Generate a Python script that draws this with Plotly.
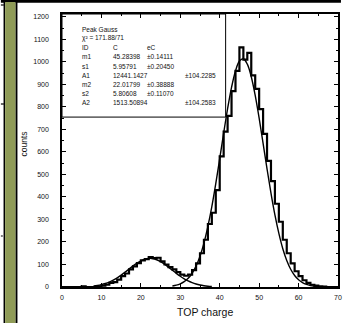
import plotly.graph_objects as go

# ---------------- data ----------------
bin_edges = list(range(0, 71))          # bin width 1, 0..70
counts = [0, 0, 0, 0, 0, 3, 0, 0, 0, 3,
          6, 10, 18, 22, 33, 48, 60, 78, 92, 106,
          118, 124, 133, 128, 130, 114, 100, 88, 78, 66,
          55, 50, 55, 75, 105, 150, 210, 280, 330, 430,
          580, 690, 760, 870, 960, 1065, 1010, 1040, 940, 880,
          790, 680, 560, 470, 370, 290, 210, 150, 105, 70,
          48, 30, 18, 10, 6, 3, 2, 0, 0, 0]

fit_big_x = list(range(28, 67))
fit_big_y = [4.4, 8, 14, 23.7, 38.7, 61, 93, 137, 195, 269,
             357, 459, 570, 684, 792, 887, 960, 1004, 1014, 990,
             934, 851, 750, 638, 525, 417, 320, 238, 170, 118,
             79, 51, 32, 19.3, 11.3, 6.4, 3.5, 1.8, 0.9]

fit_small_x = list(range(8, 39))
fit_small_y = [4.3, 6.8, 10.4, 15.4, 22, 30.4, 40.7, 52.6, 65.9, 79.8,
               93.6, 106, 116.4, 123.5, 126.8, 126, 121, 112.6, 101.3, 88.2,
               74.2, 60.5, 47.7, 36.4, 26.8, 19.2, 13.2, 8.8, 5.7, 3.6, 2.2]

x_ticks = [0, 10, 20, 30, 40, 50, 60, 70]
y_ticks = [0, 100, 200, 300, 400, 500, 600, 700, 800, 900, 1000, 1100, 1200]

stat_names = ["Peak Gauss", "χ² = 171.88/71", "ID", "m1", "s1", "A1", "m2", "s2", "A2"]
stat_values = ["", "", "C", "45.28398", "5.95791", "12441.1427", "22.01799", "5.80608", "1513.50894"]
stat_errors = ["", "", "eC", "±0.14111", "±0.20450", "±104.2285", "±0.38888", "±0.11070", "±104.2583"]

x_title = "TOP charge"
y_title = "counts"

# ---------------- figure ----------------
L, R, T, B = 62, 3, 14, 36
W, H = 345, 323
PW, PH = W - L - R, H - T - B


def px(x):
    return (x - L) / PW


def py(y):
    return (H - B - y) / PH


fig = go.Figure()

fig.add_trace(go.Scatter(
    x=bin_edges, y=counts + [counts[-1]], mode="lines", line_shape="hv",
    line=dict(color="black", width=2.2), hoverinfo="skip"))
fig.add_trace(go.Scatter(
    x=fit_small_x, y=fit_small_y, mode="lines", line_shape="spline",
    line=dict(color="black", width=1.4), hoverinfo="skip"))
fig.add_trace(go.Scatter(
    x=fit_big_x, y=fit_big_y, mode="lines", line_shape="spline",
    line=dict(color="black", width=1.4), hoverinfo="skip"))

shapes = []
# stats box
shapes.append(dict(type="rect", xref="x", yref="y", x0=0, x1=41.5, y0=755, y1=1213,
                   line=dict(color="black", width=1), fillcolor="rgba(0,0,0,0)"))
# page decorations (scan borders)
shapes.append(dict(type="rect", xref="paper", yref="paper", x0=px(0), x1=px(345),
                   y0=py(2.7), y1=py(0), fillcolor="black", line=dict(width=0)))
shapes.append(dict(type="rect", xref="paper", yref="paper", x0=px(2.7), x1=px(4.3),
                   y0=py(323), y1=py(2), fillcolor="black", line=dict(width=0)))
shapes.append(dict(type="rect", xref="paper", yref="paper", x0=px(4.3), x1=px(15),
                   y0=py(323), y1=py(2), fillcolor="#8f9b57", line=dict(width=0)))
shapes.append(dict(type="rect", xref="paper", yref="paper", x0=px(15), x1=px(16.8),
                   y0=py(323), y1=py(2), fillcolor="black", line=dict(width=0)))
shapes.append(dict(type="line", xref="paper", yref="paper", x0=px(0), x1=px(3),
                   y0=py(5), y1=py(5), line=dict(color="black", width=1.2)))
shapes.append(dict(type="line", xref="paper", yref="paper", x0=px(0), x1=px(3),
                   y0=py(104), y1=py(104), line=dict(color="black", width=1.2)))
shapes.append(dict(type="line", xref="paper", yref="paper", x0=px(0), x1=px(2),
                   y0=py(236), y1=py(236), line=dict(color="black", width=1)))

annotations = []
for k, (n, v, e) in enumerate(zip(stat_names, stat_values, stat_errors)):
    yy = py(29 + 9.25 * k)
    annotations.append(dict(x=px(80), y=yy, xref="paper", yref="paper", text=n,
                            showarrow=False, xanchor="left", yanchor="middle",
                            font=dict(size=6.5, color="#111")))
    if v:
        annotations.append(dict(x=px(112), y=yy, xref="paper", yref="paper", text=v,
                                showarrow=False, xanchor="left", yanchor="middle",
                                font=dict(size=6.5, color="#111")))
    if e:
        ex = 185 if n.startswith("A") else 146
        annotations.append(dict(x=px(ex), y=yy, xref="paper", yref="paper", text=e,
                                showarrow=False, xanchor="left", yanchor="middle",
                                font=dict(size=6.5, color="#111")))

annotations.append(dict(x=px(207), y=py(312), xref="paper", yref="paper", text=x_title,
                        showarrow=False, xanchor="center", yanchor="middle",
                        font=dict(size=10.5, color="#111")))
annotations.append(dict(x=px(23), y=py(144), xref="paper", yref="paper", text=y_title,
                        showarrow=False, xanchor="center", yanchor="middle", textangle=-90,
                        font=dict(size=8.5, color="#111")))

fig.update_layout(
    width=W, height=H, margin=dict(l=L, r=R, t=T, b=B, pad=0),
    paper_bgcolor="white", plot_bgcolor="white", showlegend=False,
    font=dict(family="Liberation Sans, Arial, sans-serif", color="#111"),
    shapes=shapes, annotations=annotations,
    xaxis=dict(range=[0, 70], tickvals=x_ticks, ticks="inside", ticklen=4, tickwidth=1,
               tickcolor="black", showline=True, linecolor="black", linewidth=1.5,
               mirror="ticks", showgrid=False, zeroline=False,
               tickfont=dict(size=7, color="#111"), ticklabelstandoff=3,
               minor=dict(dtick=5, ticks="inside", ticklen=2, tickcolor="black")),
    yaxis=dict(range=[0, 1213], tickvals=y_ticks, ticks="inside", ticklen=4, tickwidth=1,
               tickcolor="black", showline=True, linecolor="black", linewidth=1.5,
               mirror="ticks", showgrid=False, zeroline=False,
               tickfont=dict(size=7, color="#111"), ticklabelstandoff=10,
               minor=dict(dtick=50, ticks="inside", ticklen=2, tickcolor="black")),
)

fig.write_html("out.html", config={"displayModeBar": False},
               post_script="document.body.style.margin='0';document.body.style.overflow='hidden';")
